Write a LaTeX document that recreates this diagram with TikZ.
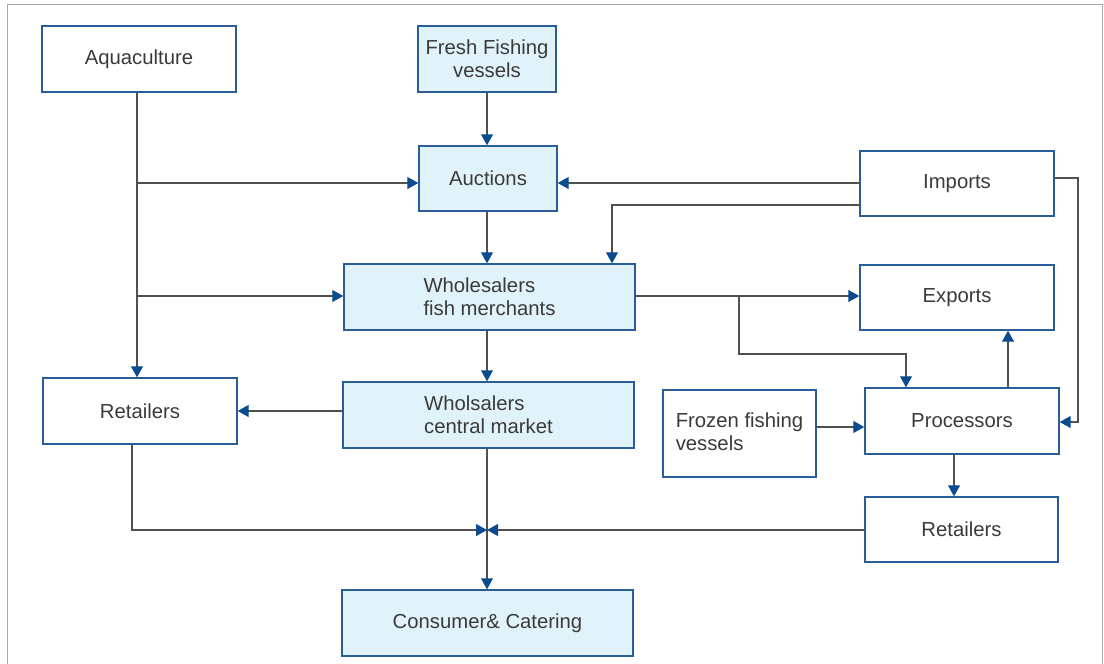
\documentclass[tikz,border=0pt]{standalone}
\usepackage{fontspec}
\setmainfont{Liberation Sans}
\usetikzlibrary{arrows.meta}
\definecolor{boxblue}{HTML}{2A5C9A}
\definecolor{tipblue}{HTML}{0B4C91}
\definecolor{lightfill}{HTML}{E1F3FA}
\definecolor{linegray}{HTML}{505050}
\definecolor{txt}{HTML}{3A3A3A}
\begin{document}
\begin{tikzpicture}[x=1pt,y=-1pt,
  box/.style={draw=boxblue,line width=1.4pt,fill=white,inner sep=2pt,
    font=\fontsize{20.3}{23}\selectfont,text=txt,align=center},
  lbox/.style={box,fill=lightfill},
  conn/.style={draw=linegray,line width=1.1pt,-{Triangle[length=11pt,width=12pt,color=tipblue]}},
  plain/.style={draw=linegray,line width=1.1pt}]
\useasboundingbox (0,0) rectangle (1104,664);
\draw[gray!70,line width=1pt] (7,664) -- (7,4) -- (1102,4) -- (1102,664);
% nodes
\node[box,minimum width=194pt,minimum height=66pt] (aqua) at (139,59) {Aquaculture};
\node[lbox,minimum width=138pt,minimum height=66pt] (fresh) at (487,59) {Fresh Fishing\\vessels};
\node[lbox,minimum width=138pt,minimum height=65pt] (auct) at (488,178.5) {Auctions};
\node[box,minimum width=194pt,minimum height=65pt] (imp) at (957,183.5) {Imports};
\node[lbox,minimum width=291pt,minimum height=66pt,align=left] (whf) at (489.5,297) {Wholesalers\\fish merchants};
\node[box,minimum width=194pt,minimum height=65pt] (exp) at (957,297.5) {Exports};
\node[box,minimum width=194pt,minimum height=66pt] (retl) at (140,411) {Retailers};
\node[lbox,minimum width=291pt,minimum height=66pt,align=left] (whc) at (488.5,415) {Wholsalers\\central market};
\node[box,minimum width=153pt,minimum height=87pt,align=left] (froz) at (739.5,433.5) {Frozen fishing\\vessels\vphantom{g}};
\node[box,minimum width=194pt,minimum height=66pt] (proc) at (962,421) {Processors};
\node[box,minimum width=193pt,minimum height=65pt] (retr) at (961.5,529.5) {Retailers};
\node[lbox,minimum width=291pt,minimum height=66pt] (cons) at (487.5,623) {Consumer\& Catering};
% coordinates
\coordinate (j1) at (137,183);
\coordinate (j2) at (137,296);
\coordinate (mid) at (487,530);
\coordinate (jm) at (739,296);
% connectors
\draw[conn] (aqua.south -| 137,0) -- (retl.north -| 137,0);
\draw[conn] (j1) -- (auct.west |- j1);
\draw[conn] (j2) -- (whf.west |- j2);
\draw[conn] (fresh.south -| 487,0) -- (auct.north -| 487,0);
\draw[conn] (auct.south -| 487,0) -- (whf.north -| 487,0);
\draw[conn] (imp.west |- 0,183) -- (auct.east |- 0,183);
\draw[conn] (imp.west |- 0,205) -- (612,205) -- (whf.north -| 612,0);
\draw[conn] (imp.east |- 0,178) -- (1078,178) -- (1078,422) -- (proc.east |- 0,422);
\draw[conn] (whf.east |- 0,296) -- (exp.west |- 0,296);
\draw[conn] (jm) -- (739,354) -- (906,354) -- (proc.north -| 906,0);
\draw[conn] (proc.north -| 1008,0) -- (exp.south -| 1008,0);
\draw[conn] (whf.south -| 487,0) -- (whc.north -| 487,0);
\draw[conn] (whc.west |- 0,411) -- (retl.east |- 0,411);
\draw[conn] (froz.east |- 0,427) -- (proc.west |- 0,427);
\draw[conn] (proc.south -| 954,0) -- (retr.north -| 954,0);
\draw[conn] (whc.south -| 487,0) -- (cons.north -| 487,0);
\draw[conn] (retl.south -| 132,0) -- (132,530) -- (mid);
\draw[conn] (retr.west |- mid) -- (mid);
\end{tikzpicture}
\end{document}
